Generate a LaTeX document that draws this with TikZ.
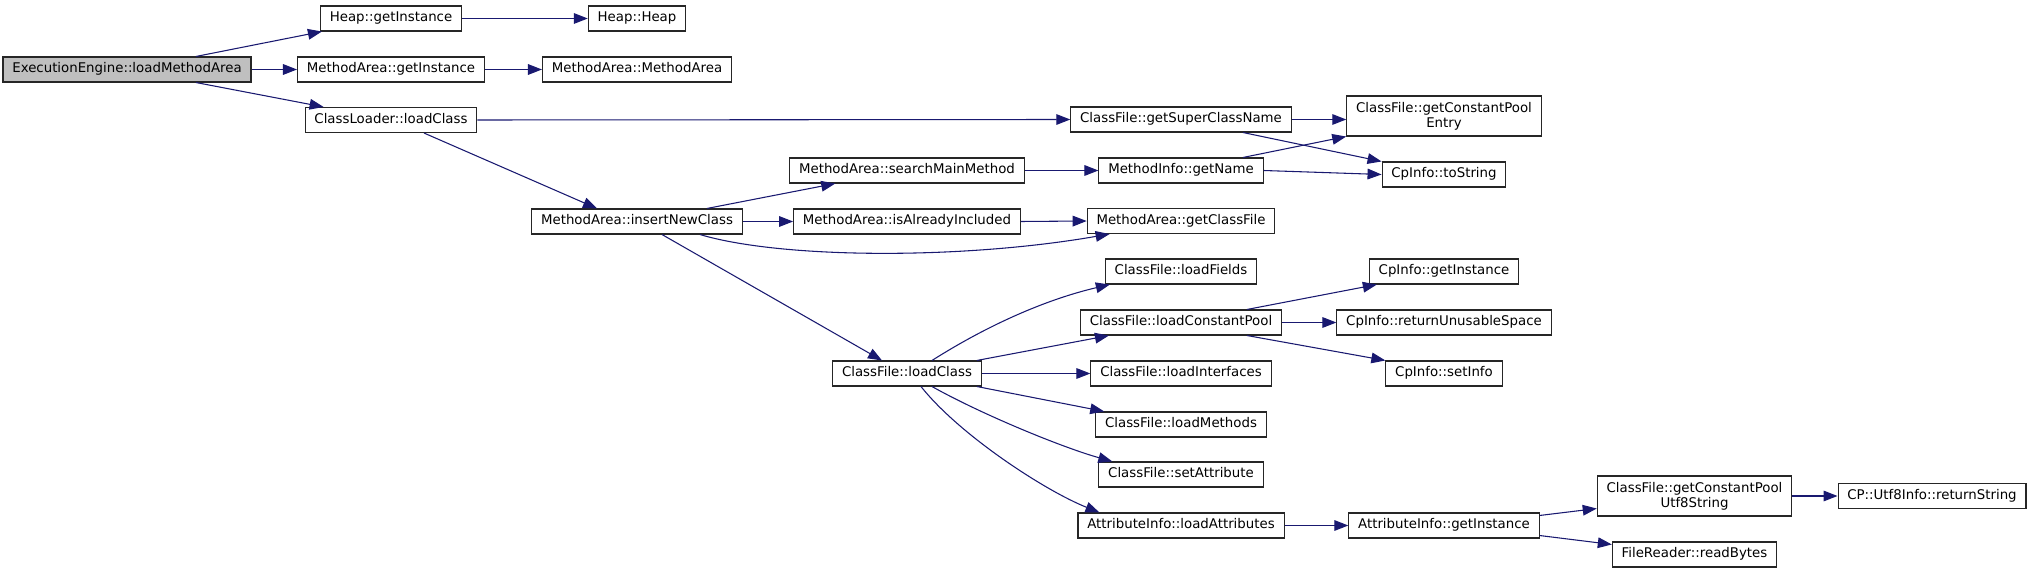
\documentclass[tikz,border=0pt]{standalone}
\usepackage{fontspec}
\setmainfont{DejaVu Sans}
\usetikzlibrary{arrows.meta,calc}
\definecolor{edgeblue}{HTML}{191970}
\begin{document}
\begin{tikzpicture}[x=0.75pt,y=-0.75pt,
    box/.style={draw=black!85,line width=0.8pt,fill=white,inner xsep=7pt,inner ysep=2pt,minimum height=18.75pt,font=\fontsize{10}{11}\selectfont},
    fn/.style={box,text height=7.6pt,text depth=2.4pt},
    fntwo/.style={box,align=center,inner ysep=4pt,minimum height=30pt},
    root/.style={fn,fill=gray!50},
    call/.style={draw=edgeblue,line width=0.8pt,-{Triangle[length=10.5pt,width=8pt]}}]
    \useasboundingbox (0,0) rectangle (2031,573);
    \node[root] (ee) at (127,69.5) {ExecutionEngine::loadMethodArea};
    \foreach \n/\x/\y/\t in {hgi/391/18.5/Heap::getInstance, hh/637/18.5/Heap::Heap,
        magi/391/69.5/MethodArea::getInstance, mamc/637/69.5/MethodArea::MethodArea,
        clc/391/120/ClassLoader::loadClass, inc/637/221.5/MethodArea::insertNewClass,
        smm/907/170.5/MethodArea::searchMainMethod, iai/907/221.5/MethodArea::isAlreadyIncluded,
        cflc/907/373.5/ClassFile::loadClass,
        gscn/1181/119.5/ClassFile::getSuperClassName, gn/1181/170.5/MethodInfo::getName,
        gcf/1181/221/MethodArea::getClassFile, lf/1181/271.5/ClassFile::loadFields,
        lcp/1181/322.5/ClassFile::loadConstantPool, li/1181/373.5/ClassFile::loadInterfaces,
        lm/1181/424.5/ClassFile::loadMethods, sa/1181/474.5/ClassFile::setAttribute,
        la/1181/525.5/AttributeInfo::loadAttributes,
        tos/1444/174.5/CpInfo::toString, cgi/1444/271.5/CpInfo::getInstance,
        rus/1444/322.5/CpInfo::returnUnusableSpace, si/1444/373.5/CpInfo::setInfo,
        aigi/1444/525.5/AttributeInfo::getInstance,
        rb/1694.5/554.5/FileReader::readBytes, ret/1932/496/CP::Utf8Info::returnString} {
        \node[fn] (\n) at (\x,\y) {\t};
    }
    \node[fntwo] (gcpe) at (1444,116) {ClassFile::getConstantPool\\Entry};
    \node[fntwo] (utf) at (1694.5,496) {ClassFile::getConstantPool\\Utf8String};
    \foreach \a/\b in {ee/magi,hgi/hh,magi/mamc,clc/gscn,inc/iai,smm/gn,iai/gcf,gn/tos,cflc/li,lcp/rus,la/aigi,utf/ret} {
        \draw[call] (\a.east) -- (\b.west);
    }
    \draw[call] (gscn.east) -- (gscn.east -| gcpe.west);
    \draw[call] ($(ee.north)+(69,0)$) -- ($(hgi.south west)+(2,0)$);
    \draw[call] ($(ee.south)+(69,0)$) -- ($(clc.north west)+(19,0)$);
    \draw[call] ($(clc.south)+(33,0)$) -- ($(inc.north)+(-40,0)$);
    \draw[call] ($(gscn.south)+(62,0)$) -- (tos.north west);
    \draw[call] ($(inc.north)+(70,0)$) -- ($(smm.south west)+(46,0)$);
    \draw[call] ($(inc.south)+(63,0)$) .. controls +(80,24) and +(-150,26) .. ($(gcf.south west)+(23,0)$);
    \draw[call] ($(inc.south)+(25,0)$) -- ($(cflc.north)+(-25,0)$);
    \draw[call] ($(gn.north)+(62,0)$) -- (gcpe.south west);
    \draw[call] ($(cflc.north)+(25,0)$) .. controls +(60,-38) and +(-60,14) .. ($(lf.south west)+(5,0)$);
    \draw[call] ($(cflc.north east)+(-5,0)$) -- ($(lcp.south west)+(29,0)$);
    \draw[call] ($(cflc.south east)+(-5,0)$) -- ($(lm.north west)+(9,0)$);
    \draw[call] ($(cflc.south)+(25,0)$) .. controls +(50,28) and +(-50,-14) .. ($(sa.north west)+(14,0)$);
    \draw[call] ($(cflc.south)+(14,0)$) .. controls +(38,48) and +(-55,-22) .. ($(la.north west)+(22,0)$);
    \draw[call] ($(lcp.north)+(66,0)$) -- ($(cgi.south west)+(8,0)$);
    \draw[call] ($(lcp.south)+(66,0)$) -- (si.north west);
    \draw[call] ($(aigi.north east)+(0,3)$) -- ($(utf.south west)+(0,-8)$);
    \draw[call] ($(aigi.south east)+(0,-3)$) -- ($(rb.north west)+(0,3)$);
\end{tikzpicture}
\end{document}
